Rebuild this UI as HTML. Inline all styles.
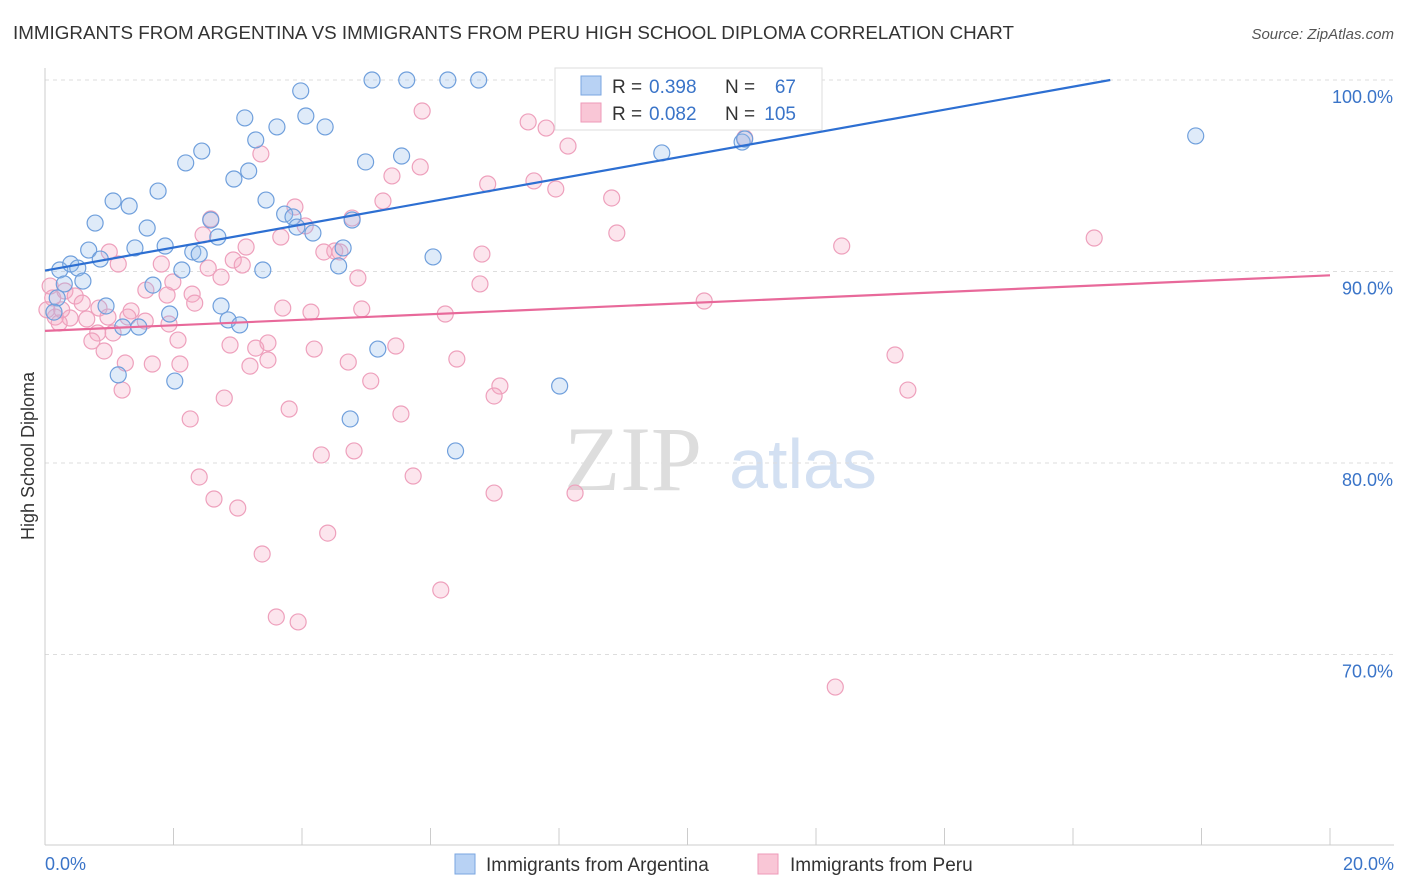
<!DOCTYPE html>
<html><head><meta charset="utf-8">
<style>
body{margin:0;background:#fff;font-family:"Liberation Sans",sans-serif;}
svg{display:block}
</style></head><body>
<svg id="chart" width="1406" height="892" viewBox="0 0 1406 892" xmlns="http://www.w3.org/2000/svg">
<text x="13" y="39" font-size="18" fill="#333" textLength="1001" lengthAdjust="spacingAndGlyphs">IMMIGRANTS FROM ARGENTINA VS IMMIGRANTS FROM PERU HIGH SCHOOL DIPLOMA CORRELATION CHART</text>
<text x="1394" y="39" font-size="15" fill="#555" text-anchor="end" font-style="italic">Source: ZipAtlas.com</text>
<g>
<text x="633" y="490" font-size="92" fill="#ddd" text-anchor="middle" font-family="Liberation Serif,serif">ZIP</text>
<text x="803" y="488" font-size="70" fill="#d3e0f2" text-anchor="middle">atlas</text>
</g>
<g id="grid"></g>
<g id="axes"></g>
<g id="points"></g>
<g id="lines"></g>
<text transform="translate(34,456) rotate(-90)" font-size="18" fill="#333" text-anchor="middle">High School Diploma</text>
<g>
<rect x="555" y="68" width="267" height="62" fill="#fff" stroke="#ddd"/>
<rect x="581" y="76" width="20" height="19" fill="#b8d2f4" stroke="#7aa6e0"/>
<rect x="581" y="103" width="20" height="19" fill="#f9c6d6" stroke="#ee9ab8"/>
<text x="612" y="93" font-size="19" fill="#333">R =</text>
<text x="649" y="93" font-size="19" fill="#3a74c8">0.398</text>
<text x="725" y="93" font-size="19" fill="#333">N =</text>
<text x="796" y="93" font-size="19" fill="#3a74c8" text-anchor="end">67</text>
<text x="612" y="120" font-size="19" fill="#333">R =</text>
<text x="649" y="120" font-size="19" fill="#3a74c8">0.082</text>
<text x="725" y="120" font-size="19" fill="#333">N =</text>
<text x="796" y="120" font-size="19" fill="#3a74c8" text-anchor="end">105</text>
</g>
<g>
<rect x="455" y="854" width="20" height="20" fill="#b8d2f4" stroke="#7aa6e0"/>
<text x="486" y="871" font-size="19" fill="#333">Immigrants from Argentina</text>
<rect x="758" y="854" width="20" height="20" fill="#f9c6d6" stroke="#ee9ab8"/>
<text x="790" y="871" font-size="19" fill="#333">Immigrants from Peru</text>
</g>
</svg>
<script>
const blueX=[5.09,5.63,6.27,6.75,8.20,8.95,3.98,4.06,3.11,4.36,3.61,3.28,2.44,2.19,4.99,5.55,9.60,10.85,10.89,17.91,3.17,2.94,1.76,1.06,1.31,3.44,0.78,1.59,3.73,3.86,2.58,4.78,4.17,2.69,3.92,1.40,1.87,0.68,2.30,2.40,4.64,6.04,0.86,0.23,0.40,0.51,2.13,3.39,4.57,0.59,0.30,1.68,0.19,0.95,2.74,0.14,1.94,2.85,3.03,1.21,1.46,5.18,1.14,2.02,8.01,4.75,6.39];
const blueY=[100,100,100,100,100,100,99.43,98.12,98.02,97.55,97.55,96.87,96.29,95.67,95.72,96.03,96.19,96.76,96.92,97.08,95.25,94.83,94.20,93.68,93.42,93.73,92.53,92.27,93.00,92.85,92.69,92.69,92.01,91.80,92.32,91.23,91.33,91.12,91.02,90.91,91.23,90.76,90.65,90.08,90.39,90.18,90.08,90.08,90.29,89.50,89.35,89.29,88.62,88.20,88.20,87.88,87.78,87.47,87.21,87.10,87.10,85.95,84.60,84.28,84.02,82.30,80.63];
const pinkX=[5.87,7.52,7.80,9.54,8.14,10.89,3.36,5.84,5.40,6.89,7.61,7.95,5.26,8.82,3.89,2.58,4.78,4.05,3.67,8.90,2.46,3.13,16.33,12.40,6.80,1.00,1.14,1.81,2.93,3.07,2.54,2.74,4.87,4.51,4.34,4.59,6.77,0.08,0.31,0.47,1.57,1.99,2.29,1.90,0.12,0.58,0.84,1.34,2.33,3.70,4.14,4.93,6.23,10.26,0.16,0.39,0.22,0.65,0.98,1.29,1.56,1.93,2.07,0.82,1.06,0.73,0.92,2.88,3.28,3.47,4.19,5.46,3.47,1.25,1.67,2.10,3.19,4.72,6.41,13.23,1.20,5.07,7.08,6.99,13.43,2.79,5.54,3.80,2.26,4.30,4.81,2.40,5.73,6.99,8.25,2.63,3.00,3.38,4.40,6.16,3.60,3.94,12.30,0.03,0.26];
const pinkY=[98.38,97.81,97.49,98.07,96.55,96.97,96.14,95.46,94.99,94.57,94.73,94.31,93.68,93.84,93.37,92.74,92.79,92.38,91.80,92.01,91.91,91.28,91.75,91.33,90.91,91.02,90.39,90.39,90.60,90.34,90.18,89.71,89.66,91.07,91.02,91.02,89.35,89.24,88.98,88.72,89.03,89.45,88.82,88.77,88.62,88.35,88.09,87.94,88.35,88.09,87.88,88.04,87.78,88.46,87.62,87.57,87.31,87.52,87.62,87.62,87.41,87.26,86.42,86.79,86.79,86.37,85.85,86.16,86.00,86.27,85.95,86.11,85.38,85.22,85.17,85.17,85.06,85.27,85.43,85.64,83.81,84.28,84.02,83.50,83.81,83.39,82.56,82.82,82.30,80.42,80.63,79.27,79.32,78.43,78.43,78.12,77.65,75.25,76.34,73.37,71.96,71.70,68.30,88.0,88.0];
const yTicks=[100,90,80,70];
const yTickLabels=["100.0%","90.0%","80.0%","70.0%"];
const xTicks=[0,2,4,6,8,10,12,14,16,18,20];
const blueTrend=[[0,90.05],[16.58,100]];
const pinkTrend=[[0,86.9],[20,89.8]];
const NS="http://www.w3.org/2000/svg";
const X=v=>45+v*64.25, Y=v=>80+(100-v)*19.15;
function mk(t,a,p){const e=document.createElementNS(NS,t);for(const k in a)e.setAttribute(k,a[k]);p.appendChild(e);return e;}
const grid=document.getElementById('grid'),axes=document.getElementById('axes'),pts=document.getElementById('points'),lines=document.getElementById('lines');
yTicks.forEach((v,i)=>{
 const l=mk('line',{x1:45,x2:1394,y1:Y(v),y2:Y(v),stroke:'#ddd','stroke-dasharray':'4,4'},grid);
 
 
 const t=mk('text',{x:1393,y:Y(v)+23,'font-size':18,fill:'#3a74c8','text-anchor':'end'},axes);
 t.textContent=yTickLabels[i];
 
 
});
const ax=mk('line',{x1:45,x2:45,y1:68,y2:845,stroke:'#ccc'},axes);


const bx=mk('line',{x1:45,x2:1394,y1:845,y2:845,stroke:'#ccc'},axes);


xTicks.forEach(v=>{
 const l=mk('line',{x1:X(v),x2:X(v),y1:828,y2:845,stroke:'#ccc'},axes);
 
 
});
const xl=mk('text',{x:45,y:870,'font-size':18,fill:'#3a74c8'},axes);xl.textContent='0.0%';


const xr=mk('text',{x:1394,y:870,'font-size':18,fill:'#3a74c8','text-anchor':'end'},axes);xr.textContent='20.0%';


pinkX.forEach((v,i)=>{
 const c=mk('circle',{cx:X(v),cy:Y(pinkY[i]),r:8,fill:'rgba(244,170,196,0.3)',stroke:'#eea0bc','stroke-width':1.2},pts);
 
 
});
blueX.forEach((v,i)=>{
 const c=mk('circle',{cx:X(v),cy:Y(blueY[i]),r:8,fill:'rgba(150,190,236,0.3)',stroke:'#6f9fdc','stroke-width':1.2},pts);
 
 
});
const bl=mk('line',{x1:X(blueTrend[0][0]),y1:Y(blueTrend[0][1]),x2:X(blueTrend[1][0]),y2:Y(blueTrend[1][1]),stroke:'#2d6fd2','stroke-width':2.2},lines);


const pl=mk('line',{x1:X(pinkTrend[0][0]),y1:Y(pinkTrend[0][1]),x2:X(pinkTrend[1][0]),y2:Y(pinkTrend[1][1]),stroke:'#e8699a','stroke-width':2.2},lines);


</script>
</body></html>
